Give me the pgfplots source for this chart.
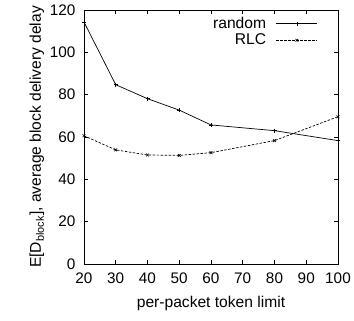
\documentclass[border=0pt]{standalone}
\usepackage{pgfplots}
\pgfplotsset{compat=1.18}
\usepackage{fontspec}
\setmainfont{Liberation Sans}
\usetikzlibrary{calc}
\begin{document}
\begin{tikzpicture}
\begin{axis}[
  name=ax,
  scale only axis,
  width=254bp, height=254bp,
  xmin=20, xmax=100, ymin=0, ymax=120,
  xtick={20,30,...,100}, ytick={0,20,...,120},
  tick align=inside,
  major tick length=4bp,
  tick style={black, line width=0.6pt},
  axis line style={line width=0.8pt},
  /pgf/number format/assume math mode=true,
  ticklabel style={font=\fontsize{15.3bp}{18bp}\selectfont},
  xticklabel style={yshift=-5bp},
  yticklabel style={xshift=-5bp},
  label style={font=\fontsize{15.6bp}{18bp}\selectfont},
  xlabel={per-packet token limit},
  ylabel={E[D\textsubscript{block}], average block delivery delay},
  xlabel style={yshift=-6bp},
  ylabel style={yshift=-1bp},
  legend plot pos=right,
  legend cell align=right,
  legend style={draw=none, fill=none, font=\fontsize{15.6bp}{18bp}\selectfont,
    at={(rel axis cs:0.921,0.98)}, anchor=north east,
    row sep=0bp, inner sep=0bp},
  legend image code/.code={
    \path (0bp,0bp);
    \draw[#1] (8bp,0bp) -- (49bp,0bp);
    \draw[#1, only marks] plot coordinates {(28.5bp,0bp)};
  },
]
\addplot[black, line width=0.7pt, mark=+, mark size=2bp, mark options={solid, line width=0.6pt}]
  coordinates {(20,114.3) (30,84.7) (40,78.1) (50,72.7) (60,65.7) (80,63.0) (100,58.3)};
\addlegendentry{random}
\addplot[black, line width=0.7pt, dash pattern=on 2.5bp off 1.5bp, mark=x, mark size=2bp, mark options={solid, line width=0.6pt}]
  coordinates {(20,60.6) (30,53.9) (40,51.5) (50,51.3) (60,52.6) (80,58.3) (100,69.6)};
\addlegendentry{RLC}
\end{axis}
\pgfresetboundingbox
\path ($(ax.south west)+(-84bp,-56bp)$) rectangle ($(ax.north east)+(16bp,10bp)$);
\end{tikzpicture}
\end{document}
